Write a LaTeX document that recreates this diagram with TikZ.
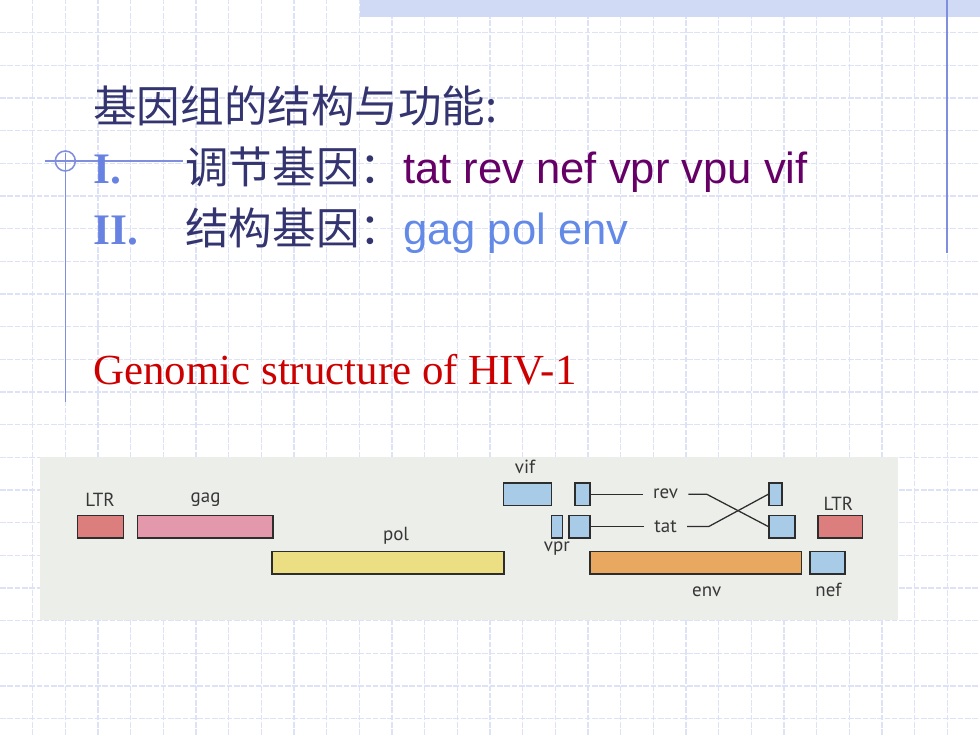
\documentclass[tikz,border=0pt]{standalone}
\usepackage{fontspec}
\setmainfont{Liberation Serif}
\newfontfamily\cjk{Noto Sans CJK SC}
\newfontfamily\arial{Liberation Sans}
\newfontfamily\genefont{PT Sans}

\definecolor{gridblue}{RGB}{222,226,246}
\definecolor{frameblue}{RGB}{128,142,222}
\definecolor{bandblue}{RGB}{208,218,244}
\definecolor{navy}{RGB}{52,52,112}
\definecolor{numblue}{RGB}{104,130,226}
\definecolor{plum}{RGB}{102,0,102}
\definecolor{geneblue}{RGB}{100,138,232}
\definecolor{hivred}{RGB}{204,0,0}
\definecolor{panelgray}{RGB}{236,238,234}
\definecolor{boxgray}{RGB}{45,45,45}
\definecolor{tagtext}{RGB}{55,55,55}
\definecolor{ltrred}{RGB}{220,126,126}
\definecolor{gagpink}{RGB}{228,152,172}
\definecolor{polyellow}{RGB}{236,222,130}
\definecolor{envorange}{RGB}{232,168,96}
\definecolor{accblue}{RGB}{168,204,232}

\begin{document}
\begin{tikzpicture}[
    gridline/.style={draw=gridblue, line width=0.8pt, dash pattern=on 4pt off 1.2pt},
    frameline/.style={draw=frameblue, line width=1.1pt},
    heading/.style={font=\fontsize{31}{36}\selectfont, anchor=base west, inner sep=0pt},
    gene/.style={draw=boxgray, line width=1.1pt, rectangle, anchor=west, inner sep=0pt, minimum height=0.56cm},
    genetag/.style={font=\genefont\fontsize{13.5}{15}\selectfont, text=tagtext, inner sep=0pt},
    splice/.style={draw=boxgray, line width=0.9pt}
]
    \useasboundingbox (0,0) rectangle (24.5,18.375);
    \fill[white] (0,0) rectangle (24.5,18.375);

    % Slide grid
    \foreach \i in {1,...,29}
        \draw[gridline] (\i*0.81667,0) -- (\i*0.81667,18.375);
    \foreach \j in {1,...,22}
        \draw[gridline] (0,18.375-\j*0.81667) -- (24.5,18.375-\j*0.81667);

    % Template band and rules
    \fill[bandblue] (9.0,17.95) rectangle (24.5,18.375);
    \draw[frameline] (23.68,18.375) -- (23.68,12.05);
    \draw[frameline] (1.633,14.55) -- (1.633,8.33);
    \draw[frameline] (1.125,14.35) -- (4.575,14.35);
    \draw[frameline] (1.633,14.35) circle (0.25);

    % Headings
    \node[heading, text=navy] (title) at (2.325,15.3) {\cjk 基因组的结构与功能:};
    \node[heading, text=numblue, font=\bfseries\fontsize{31}{36}\selectfont] (num1) at (2.33,13.775) {I.};
    \node[heading, text=navy] (regul) at (4.625,13.775) {\cjk 调节基因：\arial\color{plum}tat rev nef vpr vpu vif};
    \node[heading, text=numblue, font=\bfseries\fontsize{31}{36}\selectfont] (num2) at (2.33,12.25) {II.};
    \node[heading, text=navy] (struct) at (4.625,12.25) {\cjk 结构基因：\arial\color{geneblue}gag pol env};
    \node[heading, text=hivred, font=\fontsize{30.5}{36}\selectfont] (hiv) at (2.33,8.75) {Genomic structure of HIV-1};

    % Genome panel
    \fill[panelgray] (1.0,2.875) rectangle (22.45,6.95);

    % Gene boxes
    \node[gene, fill=ltrred, minimum width=1.15cm] (ltrL) at (1.92,5.21) {};
    \node[gene, fill=gagpink, minimum width=3.39cm] (gag) at (3.42,5.21) {};
    \node[gene, fill=polyellow, minimum width=5.81cm] (pol) at (6.775,4.31) {};
    \node[gene, fill=accblue, minimum width=1.2cm] (vif) at (12.57,6.02) {};
    \node[gene, fill=accblue, minimum width=0.375cm] (revA) at (14.36,6.02) {};
    \node[gene, fill=accblue, minimum width=0.275cm] (vpr) at (13.77,5.21) {};
    \node[gene, fill=accblue, minimum width=0.525cm] (tatA) at (14.21,5.21) {};
    \node[gene, fill=accblue, minimum width=0.32cm] (tatB) at (19.21,6.02) {};
    \node[gene, fill=accblue, minimum width=0.65cm] (revB) at (19.21,5.21) {};
    \node[gene, fill=ltrred, minimum width=1.11cm] (ltrR) at (20.43,5.21) {};
    \node[gene, fill=envorange, minimum width=5.285cm] (env) at (14.73,4.31) {};
    \node[gene, fill=accblue, minimum width=0.87cm] (nef) at (20.23,4.31) {};

    % Gene names
    \node[genetag] (ltrLtag) at (2.5,5.875) {LTR};
    \node[genetag] (gagtag) at (5.14,5.875) {gag};
    \node[genetag] (poltag) at (9.9,4.975) {pol};
    \node[genetag] (viftag) at (13.125,6.71) {vif};
    \node[genetag, inner xsep=0.25cm] (revtag) at (16.64,6.02) {rev};
    \node[genetag, inner xsep=0.25cm] (tattag) at (16.64,5.21) {tat};
    \node[genetag] (vprtag) at (13.92,4.67) {vpr};
    \node[genetag] (ltrRtag) at (20.96,5.79) {LTR};
    \node[genetag] (envtag) at (17.67,3.58) {env};
    \node[genetag] (neftag) at (20.71,3.625) {nef};

    % Spliced exons
    \draw[splice] (revA.east) -- (revtag.west);
    \draw[splice] (revtag.east) -- ++(0.46,0) -- (revB.west);
    \draw[splice] (tatA.east) -- (tattag.west);
    \draw[splice] (tattag.east) -- ++(0.54,0) -- (tatB.west);

\end{tikzpicture}
\end{document}
